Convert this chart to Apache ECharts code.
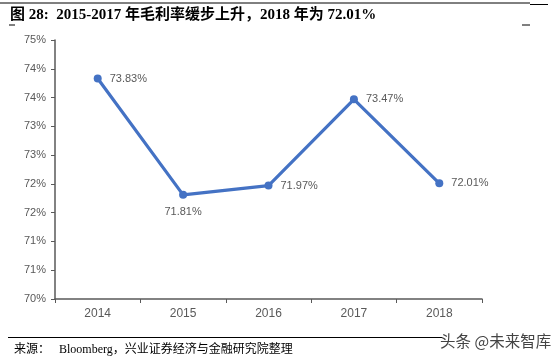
<!DOCTYPE html>
<html><head><meta charset="utf-8">
<script src="https://cdn.jsdelivr.net/npm/echarts@6/dist/echarts.min.js"></script>
<style>html,body{margin:0;padding:0;background:#fff;}#c{width:553px;height:358px;}</style>
</head><body><div id="c"></div>
<script>
var categories = ['2014','2015','2016','2017','2018'];
var margins = [73.83, 71.81, 71.97, 73.47, 72.01];
var labelPos = ['right','bottom','right','right','right'];
var titleText = '图 28:  2015-2017 年毛利率缓步上升，2018 年为 72.01%';
var sourceText = '来源：   Bloomberg，兴业证券经济与金融研究院整理';
var watermark = '头条 @未来智库';

var chart = echarts.init(document.getElementById('c'));
chart.setOption({
  animation: false,
  grid: {left: 55, right: 71, top: 40, bottom: 59},
  xAxis: {
    type: 'category', data: categories, boundaryGap: true,
    axisLine: {lineStyle: {color: '#595959', width: 1.5}},
    axisTick: {show: true, length: 4, lineStyle: {color: '#595959'}},
    axisLabel: {color: '#595959', fontSize: 12, margin: 9, fontFamily: 'Liberation Sans'}
  },
  yAxis: {
    type: 'value', min: 70, max: 74.5, interval: 0.5,
    splitLine: {show: false},
    axisLine: {show: true, lineStyle: {color: '#595959', width: 1.5}},
    axisTick: {show: true, length: 4, inside: false, lineStyle: {color: '#595959'}},
    axisLabel: {color: '#595959', fontSize: 11, margin: 9, fontFamily: 'Liberation Sans',
      formatter: function(v){ return Math.round(v) + '%'; }}
  },
  series: [{
    type: 'line',
    data: margins.map(function(v, i){ return {value: v, label: {position: labelPos[i]}}; }),
    symbol: 'circle', symbolSize: 8,
    lineStyle: {color: '#4472C4', width: 3.2},
    itemStyle: {color: '#4472C4'},
    label: {show: true, color: '#595959', fontSize: 11, distance: 8, fontFamily: 'Liberation Sans',
      formatter: function(p){ return p.value.toFixed(2) + '%'; }}
  }],
  graphic: [
    {type: 'line', shape: {x1: 0, y1: 3, x2: 530, y2: 3}, style: {stroke: '#000', lineWidth: 1}},
    {type: 'line', shape: {x1: 530, y1: 4.5, x2: 548, y2: 4.5}, style: {stroke: '#000', lineWidth: 1}},
    {type: 'line', shape: {x1: 9, y1: 25, x2: 15, y2: 25}, style: {stroke: '#000', lineWidth: 1}},
    {type: 'line', shape: {x1: 522, y1: 25, x2: 530, y2: 25}, style: {stroke: '#000', lineWidth: 1}},
    {type: 'text', left: 10, top: 8, style: {text: titleText, fill: '#000',
      font: 'bold 15px "Liberation Serif", "Noto Sans CJK SC", serif'}},
    {type: 'line', shape: {x1: 8, y1: 337.5, x2: 442, y2: 337.5}, style: {stroke: '#000', lineWidth: 1}},
    {type: 'text', left: 14, top: 344, style: {text: sourceText, fill: '#000',
      font: '12px "Liberation Serif", "Noto Sans CJK SC", serif'}},
    {type: 'text', left: 440, top: 333, style: {text: watermark, fill: '#444',
      font: '15.5px "Noto Sans CJK SC", sans-serif'}}
  ]
});
</script></body></html>
